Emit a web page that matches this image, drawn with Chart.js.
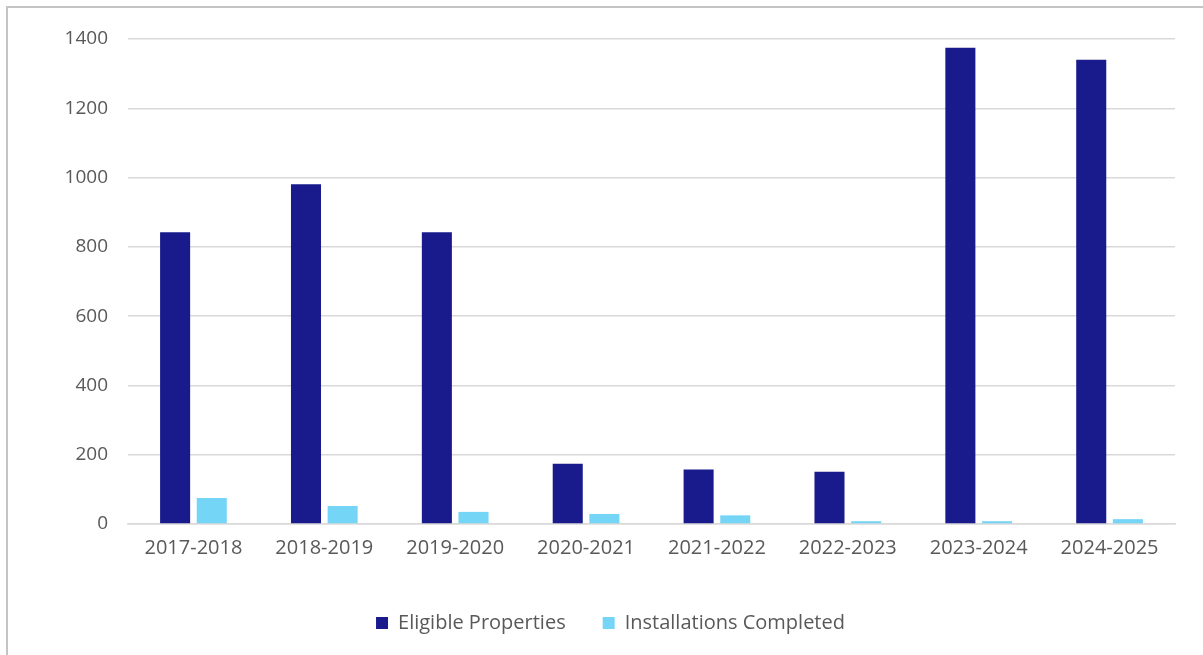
<!DOCTYPE html>
<html>
<head>
<meta charset="utf-8">
<script src="https://cdn.jsdelivr.net/npm/chart.js@4"></script>
<style>
    html, body { margin: 0; padding: 0; background: #fff; }
    #wrap { position: relative; width: 1203px; height: 655px; overflow: hidden; }
    #frame { position: absolute; left: 6px; top: 6px; right: -10px; bottom: -10px;
             border-top: 2px solid #c4c4c4; border-left: 2px solid #c4c4c4; }
    canvas { position: absolute; left: 0; top: 0; }
</style>
</head>
<body>
<div id="wrap">
    <div id="frame"></div>
    <canvas id="chart" width="1203" height="655"></canvas>
</div>
<script>
    // Data
    const years = ['2017-2018', '2018-2019', '2019-2020', '2020-2021', '2021-2022', '2022-2023', '2023-2024', '2024-2025'];
    const eligibleProperties = [842, 981, 842, 174, 157, 151, 1375, 1340];
    const installationsCompleted = [75, 52, 35, 29, 25, 8, 8, 14];
    const yTicks = [0, 200, 400, 600, 800, 1000, 1200, 1400];

    const navy = '#191b8c';
    const sky = '#75d5f7';
    const gridColor = '#d9d9d9';
    const textColor = '#595959';

    Chart.defaults.font.family = "'Open Sans', sans-serif";
    Chart.defaults.color = textColor;

    new Chart(document.getElementById('chart'), {
        type: 'bar',
        data: {
            labels: years,
            datasets: [
                { label: 'Eligible Properties', data: eligibleProperties, backgroundColor: navy,
                  categoryPercentage: 0.56, barPercentage: 0.82 },
                { label: 'Installations Completed', data: installationsCompleted, backgroundColor: sky,
                  categoryPercentage: 0.56, barPercentage: 0.82 }
            ]
        },
        options: {
            responsive: false,
            animation: false,
            layout: { padding: { left: 46, right: 28, top: 39, bottom: 12 } },
            plugins: {
                tooltip: { enabled: false },
                legend: {
                    position: 'bottom',
                    labels: {
                        boxWidth: 12, boxHeight: 12, padding: 37,
                        font: { size: 20 }, color: textColor
                    }
                }
            },
            scales: {
                y: {
                    min: 0, max: 1400,
                    afterBuildTicks: axis => { axis.ticks = yTicks.map(v => ({ value: v })); },
                    afterFit: axis => { axis.width = 82; },
                    ticks: { padding: 20, font: { size: 19 }, color: textColor, callback: v => String(v) },
                    grid: { color: gridColor, lineWidth: 1.5, drawTicks: false },
                    border: { display: false }
                },
                x: {
                    afterFit: axis => { axis.height = 52; },
                    ticks: { padding: 12, font: { size: 20 }, color: textColor, maxRotation: 0 },
                    grid: { display: false, drawTicks: false },
                    border: { display: true, color: gridColor, width: 1.5 }
                }
            }
        }
    });
</script>
</body>
</html>
